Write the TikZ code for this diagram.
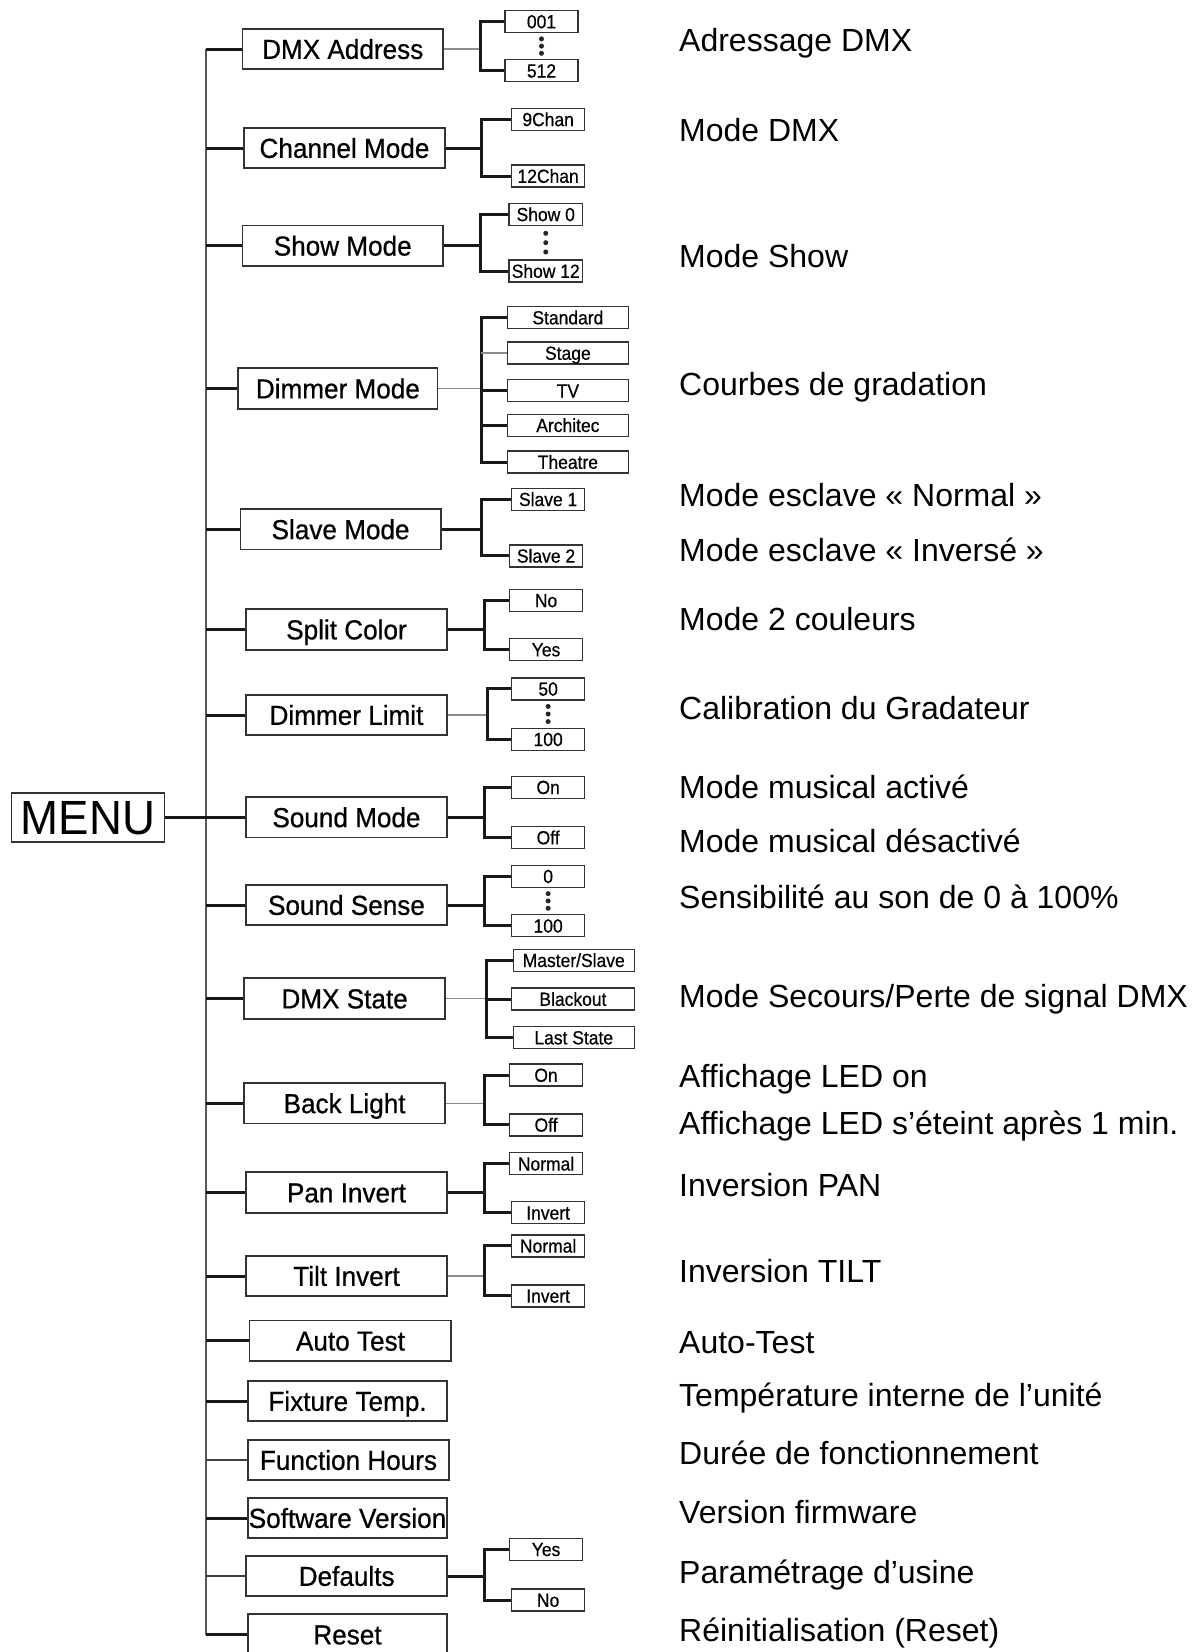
\documentclass[tikz,border=0pt]{standalone}
\usepackage{fontspec}
\setmainfont{Liberation Sans}
\newfontfamily\boxfont[FakeStretch=0.95,FakeBold=0.6]{Liberation Sans}
\newfontfamily\subfont[FakeStretch=0.92,FakeBold=0.5]{Liberation Sans}
\newfontfamily\menufont[FakeStretch=0.95]{Liberation Sans}
\newcommand\mbx[5]{\node[mbox, minimum width={#3-#2}] (#1) at ({(#2+#3)/2},#4) {#5};}
\newcommand\sbx[5]{\node[sbox, minimum width={#3-#2}] (#1) at ({(#2+#3)/2},#4) {#5};}
\newcommand\dsc[3]{\node[desc] (#1) at (679,{#2+8.3}) {#3};}
\begin{document}
\begin{tikzpicture}[x=1pt,y=-1pt,
  mbox/.style={draw=black!80, line width=1.7pt, inner sep=0pt,
    font=\boxfont\fontsize{27.5}{27.5}\selectfont, text height=19.7pt, text depth=0pt,
    minimum height=40.5pt},
  sbox/.style={draw=black!80, line width=1.4pt, inner sep=0pt,
    font=\subfont\fontsize{19}{19}\selectfont, text height=13.6pt, text depth=0pt,
    minimum height=22pt},
  menubox/.style={draw=black!80, line width=1.6pt, inner sep=0pt,
    font=\menufont\fontsize{48}{48}\selectfont, text height=34.4pt, text depth=0pt,
    minimum height=49pt, minimum width=153.3pt},
  desc/.style={anchor=base west, inner sep=0pt, font=\fontsize{32}{32}\selectfont},
  dotn/.style={circle, fill=black!85, inner sep=0pt, minimum size=5pt},
  thickc/.style={line width=3pt, black!90},
  thinc/.style={line width=1.6pt, black!45},
  darkthin/.style={line width=1.4pt, black!75},
  trunkc/.style={line width=2.2pt, black!65}]
\clip (0,0) rectangle (1196,1652);
\fill[white] (0,0) rectangle (1196,1652);

% MENU
\node[menubox] (menu) at (88,817.2) {MENU};

% main boxes
\mbx{m1}{242.5}{443}{49}{DMX Address}
\mbx{m2}{244}{445}{148}{Channel Mode}
\mbx{m3}{242.5}{443}{245.7}{Show Mode}
\mbx{m4}{238.3}{437.5}{388.5}{Dimmer Mode}
\mbx{m5}{240.4}{440.8}{529.3}{Slave Mode}
\mbx{m6}{246.3}{446.7}{629.5}{Split Color}
\mbx{m7}{246.3}{446.7}{715}{Dimmer Limit}
\mbx{m8}{246.3}{446.7}{817.3}{Sound Mode}
\mbx{m9}{246.3}{446.7}{905}{Sound Sense}
\mbx{m10}{244.2}{445}{998.5}{DMX State}
\mbx{m11}{244.2}{445}{1103.3}{Back Light}
\mbx{m12}{246.3}{446.7}{1192.5}{Pan Invert}
\mbx{m13}{246.3}{446.7}{1276}{Tilt Invert}
\mbx{m14}{249.6}{451.3}{1340.7}{Auto Test}
\mbx{m15}{248}{447}{1401}{Fixture Temp.}
\mbx{m16}{248}{449}{1460}{Function Hours}
\mbx{m17}{248}{447}{1518}{Software Version}
\mbx{m18}{246.3}{447}{1576}{Defaults}
\mbx{m19}{248}{447}{1634.5}{Reset}

% sub boxes
\sbx{s1a}{505}{578}{21.5}{001}
\sbx{s1b}{505}{578}{70.7}{512}
\sbx{s2a}{511.7}{584.6}{119.3}{9Chan}
\sbx{s2b}{511.7}{584.6}{176}{12Chan}
\sbx{s3a}{509}{582.5}{214.3}{Show 0}
\sbx{s3b}{509}{582.5}{271}{Show 12}
\sbx{s4a}{507.5}{628.3}{317.5}{Standard}
\sbx{s4b}{507.5}{628.3}{353}{Stage}
\sbx{s4c}{507.5}{628.3}{390.7}{TV}
\sbx{s4d}{507.5}{628.3}{425.2}{Architec}
\sbx{s4e}{507.5}{628.3}{462}{Theatre}
\sbx{s5a}{511.7}{584.6}{499.2}{Slave 1}
\sbx{s5b}{509.6}{582.5}{555.8}{Slave 2}
\sbx{s6a}{509.6}{582.5}{600.3}{No}
\sbx{s6b}{509.6}{582.5}{649.5}{Yes}
\sbx{s7a}{511.7}{584.6}{688.8}{50}
\sbx{s7b}{511.7}{584.6}{739.2}{100}
\sbx{s8a}{511.7}{584.6}{787.2}{On}
\sbx{s8b}{511.7}{584.6}{837.5}{Off}
\sbx{s9a}{511.7}{584.6}{876.2}{0}
\sbx{s9b}{511.7}{584.6}{925.7}{100}
\sbx{s10a}{513.3}{634.2}{960.2}{Master/Slave}
\sbx{s10b}{511.7}{634.2}{999}{Blackout}
\sbx{s10c}{513.3}{634.2}{1037.5}{Last State}
\sbx{s11a}{509.6}{582.5}{1075}{On}
\sbx{s11b}{509.6}{582.5}{1124.8}{Off}
\sbx{s12a}{509.6}{582.5}{1163.7}{Normal}
\sbx{s12b}{511.7}{584.6}{1212.7}{Invert}
\sbx{s13a}{511.7}{584.6}{1245.8}{Normal}
\sbx{s13b}{511.7}{584.6}{1295.8}{Invert}
\sbx{s18a}{509.6}{582.5}{1549.2}{Yes}
\sbx{s18b}{511.7}{584.6}{1600}{No}

% trunk
\coordinate (T) at (206,0);
\draw[trunkc] (T |- m1) -- (T |- m19);
\draw[thickc] (menu.east) -- (T |- menu);
\foreach \m in {m1,m2,m3,m4,m5,m6,m7,m8,m9,m10,m11,m12,m13,m14,m15,m17,m19}
  \draw[thickc] (T |- \m) -- (\m.west);
\draw[darkthin] (T |- m16) -- (m16.west);
\draw[darkthin] (T |- m18) -- (m18.west);

% branch x positions
\coordinate (B1) at (480,0);
\coordinate (B2) at (481,0);
\coordinate (B3) at (480,0);
\coordinate (B4) at (481,0);
\coordinate (B5) at (481,0);
\coordinate (B6) at (484.6,0);
\coordinate (B7) at (487.5,0);
\coordinate (B8) at (484.6,0);
\coordinate (B9) at (484.6,0);
\coordinate (B10) at (486.7,0);
\coordinate (B11) at (484.6,0);
\coordinate (B12) at (484.6,0);
\coordinate (B13) at (484.6,0);
\coordinate (B18) at (484.6,0);

% box -> branch
\draw[thinc] (m1.east) -- (B1 |- m1);
\draw[thickc] (m2.east) -- (B2 |- m2);
\draw[thickc] (m3.east) -- (B3 |- m3);
\draw[thinc] (m4.east) -- (B4 |- m4);
\draw[thickc] (m5.east) -- (B5 |- m5);
\draw[thickc] (m6.east) -- (B6 |- m6);
\draw[thinc] (m7.east) -- (B7 |- m7);
\draw[thickc] (m8.east) -- (B8 |- m8);
\draw[thickc] (m9.east) -- (B9 |- m9);
\draw[thinc] (m10.east) -- (B10 |- m10);
\draw[thinc] (m11.east) -- (B11 |- m11);
\draw[thickc] (m12.east) -- (B12 |- m12);
\draw[thinc] (m13.east) -- (B13 |- m13);
\draw[thickc] (m18.east) -- (B18 |- m18);

% brackets
\foreach \b/\p/\q in {B1/s1a/s1b, B2/s2a/s2b, B3/s3a/s3b, B4/s4a/s4e, B5/s5a/s5b,
  B6/s6a/s6b, B7/s7a/s7b, B8/s8a/s8b, B9/s9a/s9b, B10/s10a/s10c, B11/s11a/s11b,
  B12/s12a/s12b, B13/s13a/s13b, B18/s18a/s18b}
  \draw[thickc] (\p.west) -- (\b |- \p) -- (\b |- \q) -- (\q.west);
\draw[thinc] (B4 |- s4b) -- (s4b.west);
\draw[thickc] (B4 |- s4c) -- (s4c.west);
\draw[thickc] (B4 |- s4d) -- (s4d.west);
\draw[thickc] (B10 |- s10b) -- (s10b.west);

% dots
\foreach \p/\q in {s1a/s1b, s3a/s3b, s7a/s7b, s9a/s9b}
  \path (\p.south) -- (\q.north) node[dotn, pos=0.22] {} node[dotn, pos=0.5] {} node[dotn, pos=0.78] {};

% descriptions
\dsc{d1}{43}{Adressage DMX}
\dsc{d2}{133}{Mode DMX}
\dsc{d3}{259.5}{Mode Show}
\dsc{d4}{387}{Courbes de gradation}
\dsc{d5}{498.5}{Mode esclave « Normal »}
\dsc{d6}{553}{Mode esclave « Inversé »}
\dsc{d7}{622}{Mode 2 couleurs}
\dsc{d8}{711.5}{Calibration du Gradateur}
\dsc{d9}{790}{Mode musical activé}
\dsc{d10}{844}{Mode musical désactivé}
\dsc{d11}{900.5}{Sensibilité au son de 0 à 100\%}
\dsc{d12}{999.5}{Mode Secours/Perte de signal DMX}
\dsc{d13}{1079}{Affichage LED on}
\dsc{d14}{1126}{Affichage LED s’éteint après 1 min.}
\dsc{d15}{1188}{Inversion PAN}
\dsc{d16}{1274}{Inversion TILT}
\dsc{d17}{1345}{Auto-Test}
\dsc{d18}{1398.5}{Température interne de l’unité}
\dsc{d19}{1456.5}{Durée de fonctionnement}
\dsc{d20}{1515.5}{Version firmware}
\dsc{d21}{1575}{Paramétrage d’usine}
\dsc{d22}{1633}{Réinitialisation (Reset)}
\end{tikzpicture}
\end{document}
